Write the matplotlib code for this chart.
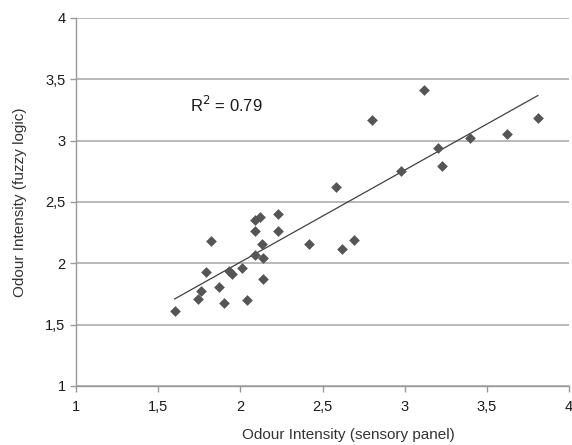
import numpy as np
import matplotlib
matplotlib.use("Agg")
import matplotlib.pyplot as plt
from matplotlib.ticker import FuncFormatter

plt.rcParams['font.family'] = ['Liberation Sans', 'DejaVu Sans']

# sensory panel vs fuzzy logic odour intensity
sensory = [1.60, 1.74, 1.76, 1.79, 1.82, 1.87, 1.90, 1.93, 1.95, 2.01,
           2.04, 2.09, 2.09, 2.12, 2.09, 2.13, 2.14, 2.14, 2.23, 2.23,
           2.42, 2.58, 2.62, 2.69, 2.80, 2.98, 3.12, 3.20, 3.23, 3.40,
           3.62, 3.81]
fuzzy = [1.61, 1.71, 1.77, 1.93, 2.18, 1.81, 1.68, 1.94, 1.91, 1.96,
         1.70, 2.35, 2.26, 2.38, 2.07, 2.16, 2.04, 1.87, 2.40, 2.26,
         2.16, 2.62, 2.12, 2.19, 3.17, 2.75, 3.41, 2.94, 2.79, 3.02,
         3.05, 3.18]
r2_text = "R$^2$ = 0.79"

x = np.array(sensory)
y = np.array(fuzzy)
k, b = np.polyfit(x, y, 1)
xl = np.array([x.min(), x.max()])

fig = plt.figure(figsize=(5.72, 4.45), dpi=100)
ax = fig.add_axes([0.1329, 0.1326, 0.8619, 0.8275])

ax.set_xlim(1, 4)
ax.set_ylim(1, 4)
ax.set_xticks(np.arange(1, 4.01, 0.5))
ax.set_yticks(np.arange(1, 4.01, 0.5))
fmt = FuncFormatter(lambda v, p: '{:g}'.format(v).replace('.', ','))
ax.xaxis.set_major_formatter(fmt)
ax.yaxis.set_major_formatter(fmt)

ax.grid(axis='y', color='#b3b3b3', linewidth=1.3, zorder=0)
ax.set_axisbelow(True)
for s in ['top', 'right']:
    ax.spines[s].set_visible(False)
for s in ['left', 'bottom']:
    ax.spines[s].set_color('#999999')
    ax.spines[s].set_linewidth(1.0)
ax.tick_params(colors='#999999', labelcolor='#1a1a1a', labelsize=10.5,
               length=4, width=1.0)
ax.tick_params(axis='x', pad=6)

ax.plot(xl, k * xl + b, color='#404040', linewidth=0.9, zorder=2)
ax.scatter(x, y, marker='D', s=30, color='#555555', linewidths=0, zorder=3)

ax.text(1.695, 3.23, r2_text, fontsize=12, color='#1a1a1a')

ax.set_xlabel('Odour Intensity (sensory panel)', fontsize=11, color='#333333')
ax.set_ylabel('Odour Intensity (fuzzy logic)', fontsize=11, color='#333333')
ax.xaxis.set_label_coords(0.552, -0.115)
ax.yaxis.set_label_coords(-0.10, 0.5)

fig.savefig('out.png', dpi=100)
